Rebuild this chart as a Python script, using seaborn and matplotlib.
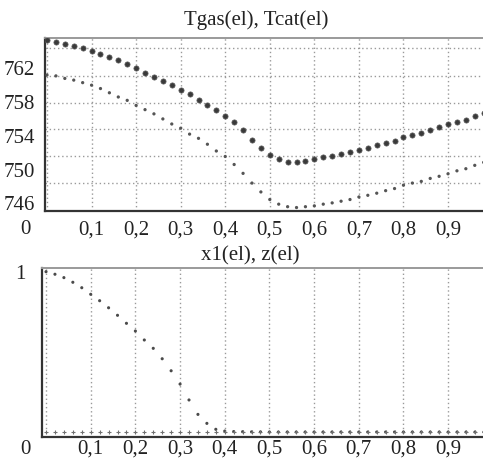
import numpy as np
import pandas as pd
import matplotlib
matplotlib.use("Agg")
import matplotlib.pyplot as plt
import seaborn as sns

# element positions (step 0.02)
el = [round(0.02 * i, 2) for i in range(50)]

tgas = [765.35, 765.1, 764.9, 764.6, 764.4, 764.1, 763.7, 763.3, 762.95, 762.5,
        762.0, 761.45, 760.98, 760.46, 760.0, 759.4, 758.9, 758.3, 757.7, 757.1,
        756.35, 755.6, 754.65, 753.55, 752.56, 751.7, 751.2, 750.95, 750.9, 751.0,
        751.2, 751.5, 751.65, 751.85, 752.05, 752.3, 752.6, 752.9, 753.15, 753.4,
        753.8, 754.05, 754.3, 754.65, 755.0, 755.35, 755.6, 755.9, 756.35, 756.7]

tcat = [761.2, 761.1, 760.8, 760.6, 760.3, 760.0, 759.6, 759.1, 758.6, 758.2,
        757.6, 757.1, 756.6, 756.0, 755.4, 754.9, 754.2, 753.7, 753.0, 752.2,
        751.55, 750.6, 749.55, 748.4, 747.35, 746.45, 745.9, 745.6, 745.5, 745.6,
        745.7, 745.9, 746.05, 746.25, 746.45, 746.75, 746.95, 747.2, 747.5, 747.75,
        748.15, 748.4, 748.6, 748.95, 749.2, 749.5, 749.85, 750.1, 750.5, 750.85]

x1 = [1.0, 0.984, 0.963, 0.934, 0.90, 0.859, 0.819, 0.775, 0.728, 0.678,
      0.630, 0.574, 0.522, 0.457, 0.382, 0.299, 0.20, 0.110, 0.054, 0.017,
      0.006, 0.003, 0.002, 0.001, 0.001, 0.0, 0.0, 0.0, 0.0, 0.0,
      0.0, 0.0, 0.0, 0.0, 0.0, 0.0, 0.0, 0.0, 0.0, 0.0,
      0.0, 0.0, 0.0, 0.0, 0.0, 0.0, 0.0, 0.0, 0.0, 0.0]

z = [0.0] * 50

t_ticks = [746, 750, 754, 758, 762]
x_ticks = [0.1, 0.2, 0.3, 0.4, 0.5, 0.6, 0.7, 0.8, 0.9]
x_labels = ["0,1", "0,2", "0,3", "0,4", "0,5", "0,6", "0,7", "0,8", "0,9"]

df = pd.DataFrame({"el": el, "Tgas": tgas, "Tcat": tcat, "x1": x1, "z": z})

sns.set_style("white")
plt.rcParams["font.family"] = ["Liberation Serif", "DejaVu Serif"]
plt.rcParams["font.size"] = 15

W, H = 483, 462
fig = plt.figure(figsize=(W / 100, H / 100), dpi=100)


def px_axes(left, top, right, bottom):
    return fig.add_axes([left / W, 1 - bottom / H, (right - left) / W, (bottom - top) / H])


grid_kw = dict(color="#9a9a9a", linewidth=1.0, linestyle=(0, (1, 2)))


def style(ax):
    ax.spines["right"].set_visible(False)
    for side in ["left", "bottom"]:
        ax.spines[side].set_color("#333333")
        ax.spines[side].set_linewidth(1.6)
    ax.spines["top"].set_color("#9a9a9a")
    ax.spines["top"].set_linewidth(1.4)
    ax.set_xlabel("")
    ax.set_ylabel("")
    ax.tick_params(length=0, colors="#222222")
    ax.set_xticks([0.0] + x_ticks, [""] + x_labels)
    for xv in [0.0] + x_ticks:
        ax.axvline(xv, zorder=0, **grid_kw)


# --- top: Tgas, Tcat
ax1 = px_axes(45, 38, 483, 211)
sns.scatterplot(data=df, x="el", y="Tgas", ax=ax1, s=14, color="#3a3a3a",
                edgecolor="#5a5a5a", linewidth=0.5, zorder=3)
sns.scatterplot(data=df, x="el", y="Tcat", ax=ax1, s=5.5, color="#555555",
                edgecolor="none", zorder=3)
ax1.set_xlim(-0.0045, 0.9785)
ax1.set_ylim(745.09, 765.59)
ax1.set_yticks(t_ticks, [str(t) for t in t_ticks])
for yv in [748.45, 751.6, 754.77, 757.92, 761.12, 764.37]:
    ax1.axhline(yv, zorder=0, **grid_kw)
style(ax1)
ax1.tick_params(axis="x", pad=7)
ax1.tick_params(axis="y", pad=7)
fig.text(256 / W, 1 - 20 / H, "Tgas(el), Tcat(el)", ha="center", va="center",
         fontsize=15, color="#222222")
fig.text(25 / W, 1 - 230 / H, "0", ha="center", va="center", fontsize=15, color="#222222")

# --- bottom: x1, z
ax2 = px_axes(42, 268, 483, 437)
sns.scatterplot(data=df, x="el", y="x1", ax=ax2, s=5, color="#4a4a4a",
                edgecolor="none", zorder=3)
sns.scatterplot(data=df, x="el", y="z", ax=ax2, s=6, marker="+", color="#707070",
                linewidth=0.8, zorder=3)
ax2.set_xlim(-0.009, 0.978)
ax2.set_ylim(-0.031, 1.023)
ax2.set_yticks([1.0], ["1"])
style(ax2)
ax2.spines["top"].set_linestyle((0, (1, 1)))
ax2.tick_params(axis="x", pad=2)
ax2.tick_params(axis="y", pad=12)
fig.text(250 / W, 1 - 256 / H, "x1(el), z(el)", ha="center", va="center",
         fontsize=15, color="#222222")
fig.text(25 / W, 1 - 450 / H, "0", ha="center", va="center", fontsize=15, color="#222222")

fig.savefig("out.png", dpi=100, facecolor="white")
